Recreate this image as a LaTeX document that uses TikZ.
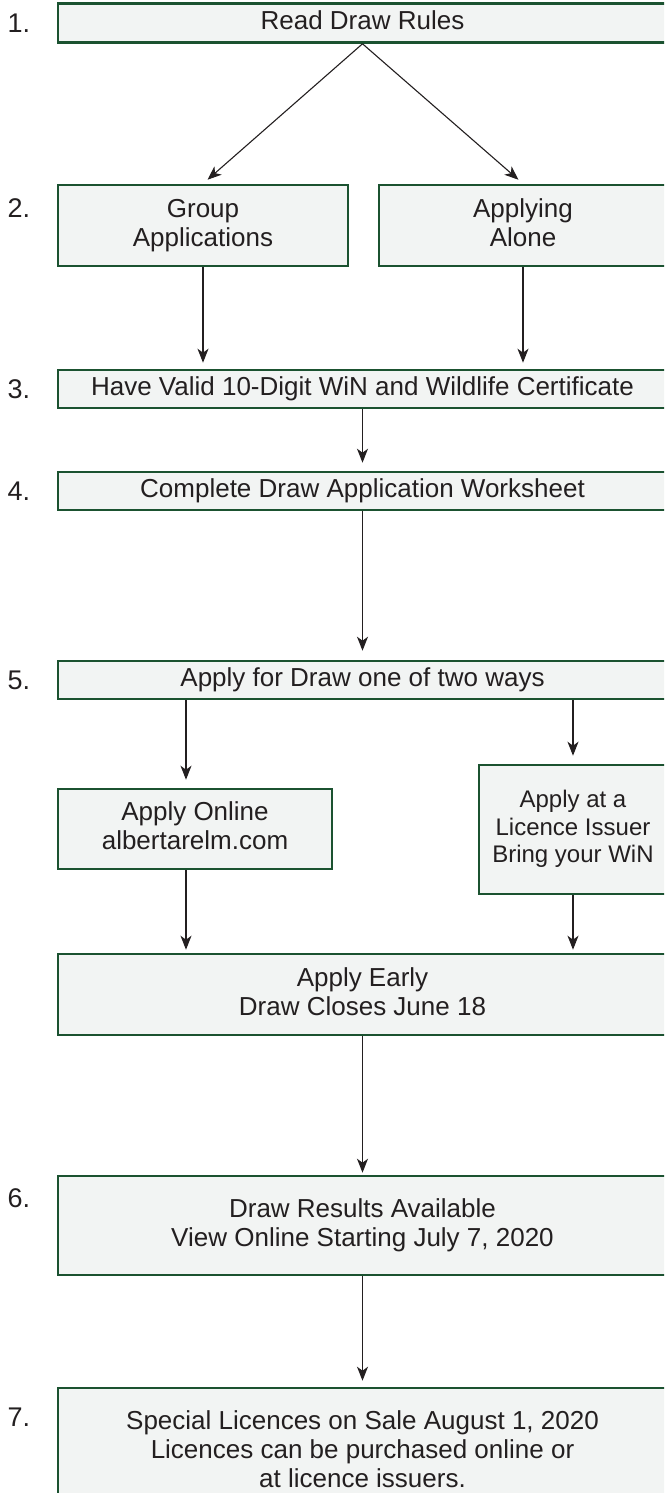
\documentclass[tikz,border=0pt]{standalone}
\usepackage{fontspec}
\setmainfont{Liberation Sans}
\usepackage{xcolor}
\usepackage{tikz}
\usetikzlibrary{arrows.meta}
\definecolor{boxgreen}{HTML}{1B5230}
\definecolor{boxfill}{HTML}{F2F4F3}
\definecolor{inkgray}{HTML}{231F20}
\newcommand{\boxstrut}{\rule[-6pt]{0pt}{24.6pt}}
\tikzset{
	stepbox/.style={draw=boxgreen,line width=2.6pt,fill=boxfill,text=inkgray,align=center,inner sep=0pt,font=\fontsize{26}{29}\selectfont,execute at begin node=\boxstrut,execute at end node=\boxstrut},
	flow/.style={-{Stealth[length=14pt,width=11pt,inset=4pt]},draw=inkgray,line width=1.1pt,shorten >=6pt},
	stepnum/.style={anchor=west,text=inkgray,font=\fontsize{27}{29}\selectfont}
}

\begin{document}
\begin{tikzpicture}[x=1pt,y=-1pt]
	\useasboundingbox (0,0) rectangle (664,1493);
	\clip (0,0) rectangle (664,1493);
	% step numbers
	\foreach \n/\y in {1/23,2/208,3/389,4/491,5/680,6/1198,7/1417}
		\node[stepnum] (num\n) at (4,\y) {\n.};
	% boxes
	\node[stepbox,minimum width=609,minimum height=39] (rules) at (362.5,23) {Read Draw Rules};
	\node[stepbox,minimum width=290,minimum height=81] (group) at (203,225.5) {Group\\Applications};
	\node[stepbox,minimum width=288,minimum height=81] (alone) at (523,225.5) {Applying\\Alone};
	\node[stepbox,minimum width=609,minimum height=38] (win) at (362.5,389) {Have Valid 10-Digit WiN and Wildlife Certificate};
	\node[stepbox,minimum width=609,minimum height=38] (sheet) at (362.5,491) {Complete Draw Application Worksheet};
	\node[stepbox,minimum width=609,minimum height=38] (apply) at (362.5,680) {Apply for Draw one of two ways};
	\node[stepbox,minimum width=274,minimum height=80] (online) at (195,829) {Apply Online\\albertarelm.com};
	\node[stepbox,minimum width=188,minimum height=129,font=\fontsize{24}{27.5}\selectfont] (issuer) at (573,829.5) {Apply at a\\Licence Issuer\\Bring your WiN};
	\node[stepbox,minimum width=609,minimum height=81] (early) at (362.5,994.5) {Apply Early\\Draw Closes June 18};
	\node[stepbox,minimum width=609,minimum height=99] (results) at (362.5,1225.5) {Draw Results Available\\View Online Starting July 7, 2020};
	\node[stepbox,minimum width=609,minimum height=128] (sale) at (362.5,1452) {Special Licences on Sale August 1, 2020\\Licences can be purchased online or\\at licence issuers.};
	\coordinate (onlinetop) at ([xshift=-9pt]online.north);
	\coordinate (onlinebot) at ([xshift=-9pt]online.south);
	% arrows
	\draw[flow] (rules.south) -- (group.north);
	\draw[flow] (rules.south) -- (alone.north);
	\draw[flow] (group.south) -- (group.south |- win.north);
	\draw[flow] (alone.south) -- (alone.south |- win.north);
	\draw[flow,shorten >=8pt] (win.south) -- (sheet.north);
	\draw[flow,shorten >=9pt] (sheet.south) -- (apply.north);
	\draw[flow,shorten >=8pt] (apply.south -| onlinetop) -- (onlinetop);
	\draw[flow,shorten >=8pt] (apply.south -| issuer.north) -- (issuer.north);
	\draw[flow,shorten >=3pt] (onlinebot) -- (onlinebot |- early.north);
	\draw[flow,shorten >=3pt] (issuer.south) -- (issuer.south |- early.north);
	\draw[flow,shorten >=2pt] (early.south) -- (results.north);
	\draw[flow] (results.south) -- (sale.north);
\end{tikzpicture}
\end{document}
